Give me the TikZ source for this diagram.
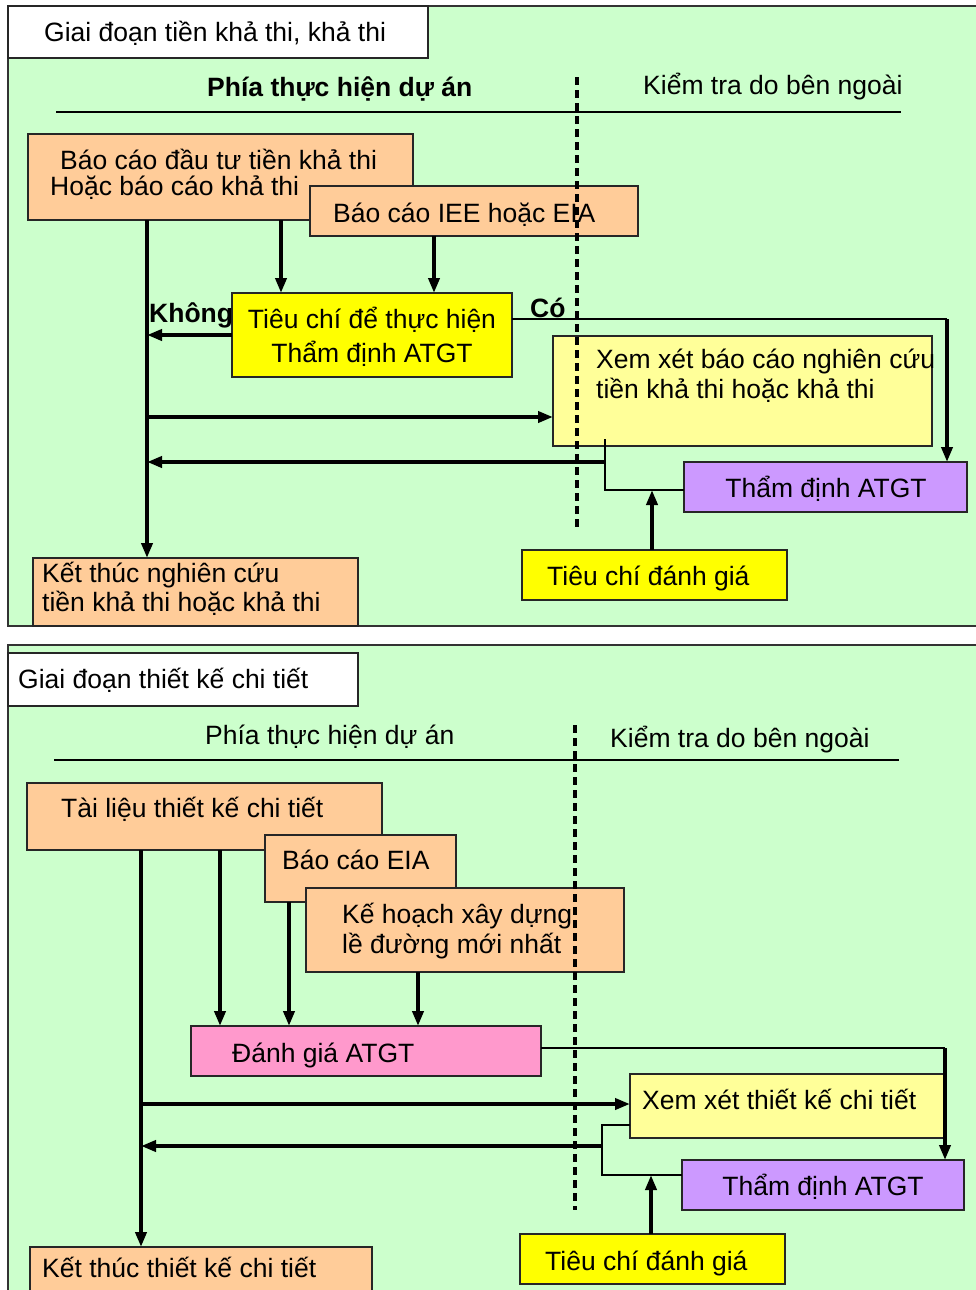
\documentclass[tikz,border=0pt]{standalone}
\usepackage{fontspec}
\setmainfont{Liberation Sans}
\usetikzlibrary{arrows.meta}

\definecolor{bgreen}{HTML}{CCFFCC}
\definecolor{borange}{HTML}{FFCC99}
\definecolor{byellow}{HTML}{FFFF00}
\definecolor{lyellow}{HTML}{FFFF99}
\definecolor{bpurple}{HTML}{CC99FF}
\definecolor{bpink}{HTML}{FF99CC}

\begin{document}
\begin{tikzpicture}[x=1pt,y=-1pt,
  panel/.style={draw=black!80, line width=1.6pt, fill=bgreen},
  box/.style={draw=black!85, line width=1.6pt, anchor=north west, inner sep=0pt, outer sep=0pt},
  txt/.style={anchor=base west, inner sep=0pt, font=\fontsize{26.5}{30}\selectfont},
  btxt/.style={txt, font=\fontsize{26.5}{30}\selectfont\bfseries},
  ctxt/.style={txt, anchor=base},
  rule/.style={line width=2pt},
  divider/.style={line width=3.5pt, dash pattern=on 8pt off 5pt},
  thin/.style={line width=1.8pt},
  arr/.style={line width=4pt, -{Triangle[width=11pt,length=15pt]}},
]
\useasboundingbox (0,0) rectangle (975,1290);
\fill[white] (0,0) rectangle (975,1290);

% ---------- stage 1: pre-feasibility / feasibility ----------
\draw[panel] (8,6) rectangle (990,626);
\node[box, fill=white, minimum width=420pt, minimum height=52pt] (tt1) at (8,6) {};
\node[txt] (tt1t) at (44,42) {Giai đoạn tiền khả thi, khả thi};

\node[btxt] (h1) at (207,96) {Phía thực hiện dự án};
\node[txt] (k1) at (643,95) {Kiểm tra do bên ngoài};
\draw[rule] (56,112) -- (901,112);

\node[box, fill=borange, minimum width=385pt, minimum height=86pt] (b1) at (28,134) {};
\node[txt] (b1a) at (60,169) {Báo cáo đầu tư tiền khả thi};
\node[txt] (b1b) at (50,195) {Hoặc báo cáo khả thi};

\node[box, fill=borange, minimum width=328pt, minimum height=50pt] (b2) at (310,186) {};
\node[txt] (b2t) at (333,222) {Báo cáo IEE hoặc EIA};

\node[box, fill=byellow, minimum width=280pt, minimum height=84pt] (t1) at (232,293) {};
\node[ctxt] (t1a) at (372,328) {Tiêu chí để thực hiện};
\node[ctxt] (t1b) at (372,362) {Thẩm định ATGT};

\node[box, fill=lyellow, minimum width=379pt, minimum height=110pt] (x1) at (553,336) {};
\node[txt] (x1a) at (596,368) {Xem xét báo cáo nghiên cứu};
\node[txt] (x1b) at (596,398) {tiền khả thi hoặc khả thi};

\node[box, fill=bpurple, minimum width=283pt, minimum height=50pt] (td1) at (684,462) {};
\node[ctxt] (td1t) at (826,497) {Thẩm định ATGT};

\node[box, fill=byellow, minimum width=265pt, minimum height=50pt] (tc1) at (522,550) {};
\node[txt] (tc1t) at (547,585) {Tiêu chí đánh giá};

\node[box, fill=borange, minimum width=325pt, minimum height=68pt] (e1) at (33,558) {};
\node[txt] (e1a) at (42,582) {Kết thúc nghiên cứu};
\node[txt] (e1b) at (42,611) {tiền khả thi hoặc khả thi};

\node[btxt] (no1) at (149,322) {Không};
\node[btxt] (yes1) at (530,317) {Có};

\draw[divider] (577,77) -- (577,528);

\coordinate (xa) at (147,0);
\coordinate (xb) at (281,0);
\coordinate (xc) at (434,0);
\coordinate (r1) at (147,417);
\coordinate (c1) at (947,319);
\coordinate (q1) at (605,439);
\coordinate (q2) at (605,490);
\coordinate (q3) at (605,462);
\coordinate (u1) at (652,490);

\draw[arr] (xa |- b1.south) -- (xa |- e1.north);
\draw[arr] (xb |- b1.south) -- (xb |- t1.north);
\draw[arr] (xc |- b2.south) -- (xc |- t1.north);
\draw[arr] (t1.west) -- (xa |- t1.west);
\draw[arr] (r1) -- (r1 -| x1.west);
\draw[thin] (c1 -| t1.east) -- (c1);
\draw[arr] (c1) -- (c1 |- td1.north);
\draw[thin] (q1) -- (q2) -- (q2 -| td1.west);
\draw[arr] (q3) -- (q3 -| xa);
\draw[arr] (u1 |- tc1.north) -- (u1);

% ---------- stage 2: detailed design ----------
\draw[panel] (8,645) rectangle (990,1300);
\node[box, fill=white, minimum width=350pt, minimum height=53pt] (tt2) at (8,653) {};
\node[txt] (tt2t) at (18,688) {Giai đoạn thiết kế chi tiết};

\node[txt] (h2) at (205,744) {Phía thực hiện dự án};
\node[txt] (k2) at (610,747) {Kiểm tra do bên ngoài};
\draw[rule] (54,760) -- (899,760);

\node[box, fill=borange, minimum width=355pt, minimum height=67pt] (tl) at (27,783) {};
\node[txt] (tlt) at (61,817) {Tài liệu thiết kế chi tiết};

\node[box, fill=borange, minimum width=191pt, minimum height=67pt] (eia) at (265,835) {};
\node[txt] (eiat) at (282,869) {Báo cáo EIA};

\node[box, fill=borange, minimum width=318pt, minimum height=84pt] (kh) at (306,888) {};
\node[txt] (kha) at (342,923) {Kế hoạch xây dựng};
\node[txt] (khb) at (342,953) {lề đường mới nhất};

\node[box, fill=bpink, minimum width=350pt, minimum height=50pt] (dg) at (191,1026) {};
\node[txt] (dgt) at (232,1062) {Đánh giá ATGT};

\node[box, fill=lyellow, minimum width=314pt, minimum height=64pt] (x2) at (630,1074) {};
\node[txt] (x2t) at (642,1109) {Xem xét thiết kế chi tiết};

\node[box, fill=bpurple, minimum width=282pt, minimum height=50pt] (td2) at (682,1160) {};
\node[ctxt] (td2t) at (823,1195) {Thẩm định ATGT};

\node[box, fill=byellow, minimum width=265pt, minimum height=50pt] (tc2) at (520,1234) {};
\node[txt] (tc2t) at (545,1270) {Tiêu chí đánh giá};

\node[box, fill=borange, minimum width=342pt, minimum height=60pt] (e2) at (30,1247) {};
\node[txt] (e2t) at (42,1277) {Kết thúc thiết kế chi tiết};

\draw[divider] (575,725) -- (575,1210);

\coordinate (xd) at (141,0);
\coordinate (xe) at (220,0);
\coordinate (xf) at (289,0);
\coordinate (xg) at (418,0);
\coordinate (c2) at (945,1048);
\coordinate (r2) at (141,1104);
\coordinate (q4) at (602,1125);
\coordinate (q5) at (602,1175);
\coordinate (q6) at (602,1146);
\coordinate (u2) at (651,1175);

\draw[arr] (xd |- tl.south) -- (xd |- e2.north);
\draw[arr] (xe |- tl.south) -- (xe |- dg.north);
\draw[arr] (xf |- eia.south) -- (xf |- dg.north);
\draw[arr] (xg |- kh.south) -- (xg |- dg.north);
\draw[thin] (c2 -| dg.east) -- (c2);
\draw[arr] (c2) -- (c2 |- td2.north);
\draw[arr] (r2) -- (r2 -| x2.west);
\draw[thin] (q4 -| x2.west) -- (q4) -- (q5) -- (q5 -| td2.west);
\draw[arr] (q6) -- (q6 -| xd);
\draw[arr] (u2 |- tc2.north) -- (u2);
\end{tikzpicture}
\end{document}
